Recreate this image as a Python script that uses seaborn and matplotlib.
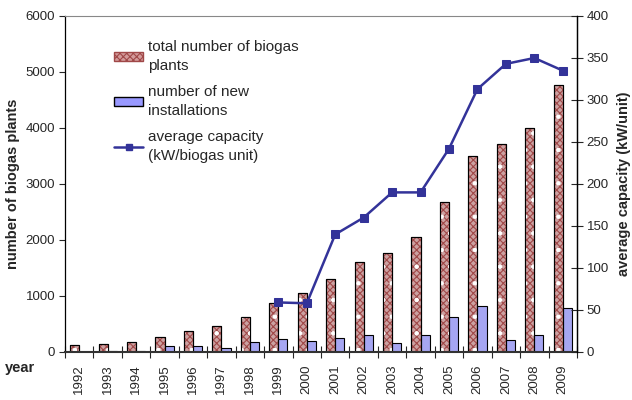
import numpy as np
import pandas as pd
import matplotlib
matplotlib.use("Agg")
import matplotlib.pyplot as plt
import seaborn as sns
from matplotlib.patches import Patch
from matplotlib.lines import Line2D

years = [str(y) for y in range(1992, 2010)]
total_plants = [130, 150, 186, 271, 367, 464, 620, 873, 1050, 1298, 1607, 1762, 2060, 2685, 3500, 3714, 4000, 4768]
new_installations = [0, 18, 18, 102, 102, 78, 175, 235, 193, 250, 310, 155, 310, 631, 821, 214, 298, 786]
cap_years = [str(y) for y in range(1999, 2010)]
avg_capacity = [59, 58, 140, 160, 190, 190, 242, 313, 343, 350, 335]

label_total = "total number of biogas\nplants"
label_new = "number of new\ninstallations"
label_cap = "average capacity\n(kW/biogas unit)"

sns.set_theme(style="white")
plt.rcParams['font.family'] = ['Liberation Sans', 'DejaVu Sans']
plt.rcParams['hatch.linewidth'] = 0.8

df = pd.DataFrame({
    "year": years * 2,
    "value": total_plants + new_installations,
    "series": [label_total] * len(years) + [label_new] * len(years),
})

fig = plt.figure(figsize=(6.32, 4.0), dpi=100)
ax = fig.add_axes([65 / 632, 1 - 352 / 400, 512 / 632, 336 / 400])

red_face = "#d39a9a"
blue_face = "#9999ff"
sns.barplot(data=df, x="year", y="value", hue="series", order=years,
            hue_order=[label_total, label_new],
            palette=[red_face, blue_face], width=0.64, gap=0,
            edgecolor="black", linewidth=0.8, ax=ax, legend=False)

# textured overlay for the total bars (dark checker + white dots)
for bar in list(ax.containers[0]):
    x, y0 = bar.get_x(), bar.get_y()
    w, h = bar.get_width(), bar.get_height()
    z = bar.get_zorder()
    ax.add_patch(plt.Rectangle((x, y0), w, h, facecolor="none", edgecolor="#a04848",
                               hatch="xxxxx", linewidth=0, zorder=z + 0.1))
    ax.add_patch(plt.Rectangle((x, y0), w, h, facecolor="none", edgecolor="white",
                               hatch=".", linewidth=0, zorder=z + 0.15))
    ax.add_patch(plt.Rectangle((x, y0), w, h, facecolor="none", edgecolor="black",
                               linewidth=0.8, zorder=z + 0.2))

ax.set_xlim(-0.5, len(years) - 0.5)
ax.set_ylim(0, 6000)
ax.set_yticks(range(0, 6001, 1000))
ax.set_xlabel("")
ax.set_ylabel("number of biogas plants", fontsize=10.5, fontweight="bold", labelpad=4)
ax.tick_params(axis="y", labelsize=9.5, length=4, direction="out", width=0.8, left=True, pad=3)
ax.set_xticks(range(len(years)))
ax.set_xticklabels(years, rotation=90, fontsize=9.5)
ax.tick_params(axis="x", which="major", length=0, pad=9)
ax.set_xticks(np.arange(-0.5, len(years), 1), minor=True)
ax.tick_params(axis="x", which="minor", length=8, direction="inout", width=0.8, bottom=True)

for s in ["left", "right"]:
    ax.spines[s].set_color("black")
    ax.spines[s].set_linewidth(0.9)
ax.spines["bottom"].set_color("#333333")
ax.spines["bottom"].set_linewidth(1.5)
ax.spines["top"].set_color("#888888")
ax.spines["top"].set_linewidth(0.8)

ax2 = ax.twinx()
cap_pos = [years.index(y) for y in cap_years]
line_color = "#333399"
sns.lineplot(x=cap_pos, y=avg_capacity, ax=ax2, color=line_color, linewidth=1.8,
             marker="s", markersize=5.5, markeredgecolor=line_color, legend=False)
ax2.set_ylim(0, 400)
ax2.set_yticks(range(0, 401, 50))
ax2.tick_params(axis="y", labelsize=9.5, length=8, direction="inout", width=0.8, right=True, pad=3)
ax2.set_ylabel("average capacity (kW/unit)", fontsize=10.5, fontweight="bold", labelpad=6)
ax2.spines["right"].set_color("black")
ax2.spines["right"].set_linewidth(0.9)
ax2.spines["top"].set_visible(False)
ax2.spines["left"].set_visible(False)
ax2.spines["bottom"].set_visible(False)

fig.text(5 / 632, 1 - 368 / 400, "year", fontsize=10.5, fontweight="bold", va="center", ha="left")

handles = [
    Patch(facecolor=red_face, edgecolor="#a04848", hatch="xxxxx", label=label_total),
    Patch(facecolor=blue_face, edgecolor="black", label=label_new),
    Line2D([], [], color=line_color, marker="s", markersize=4, linewidth=1.8, label=label_cap),
]
leg = ax.legend(handles=handles, loc="upper left", bbox_to_anchor=(49 / 512, 1 - 24 / 336),
                frameon=False, fontsize=11, handlelength=1.9, handleheight=0.6,
                labelspacing=0.78, handletextpad=0.3, borderaxespad=0, borderpad=0)
for t in leg.get_texts():
    t.set_linespacing(1.45)

fig.savefig("out.png", dpi=100)
